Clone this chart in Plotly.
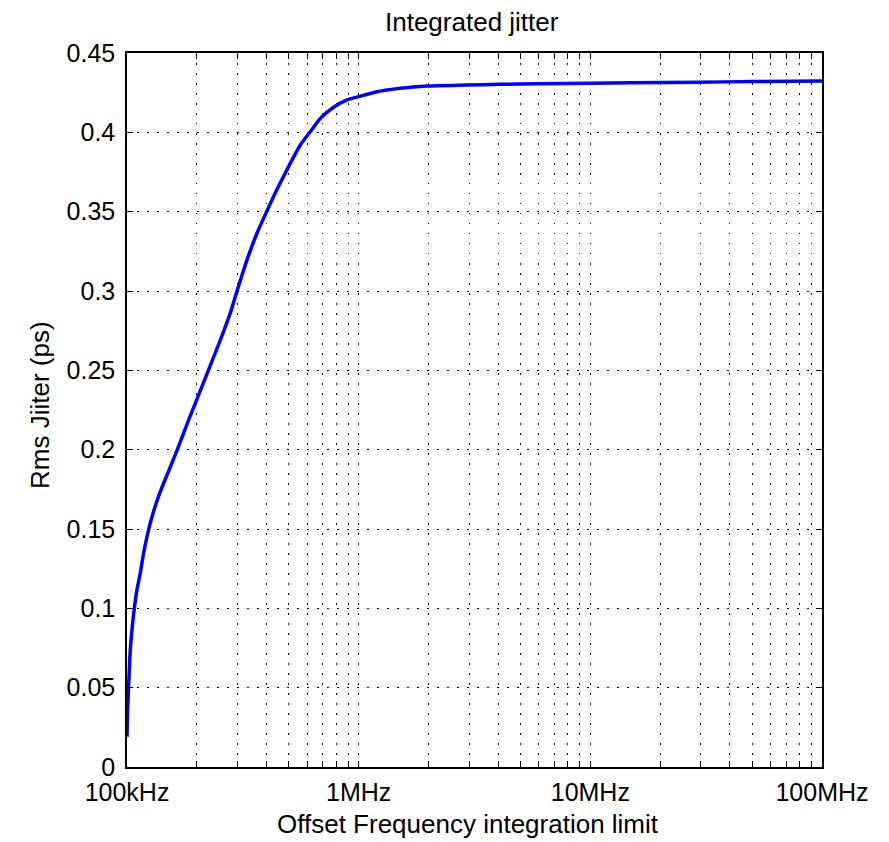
import plotly.graph_objects as go

# Offset frequency (Hz) and integrated rms jitter (ps)
freq_hz = [100.0e3, 100.6e3, 101.6e3, 103.3e3, 106.1e3, 107.5e3, 110.4e3, 114.1e3,
           117.9e3, 123.9e3, 130.2e3, 139.2e3, 148.8e3, 164.4e3, 184.5e3, 215e3,
           252.8e3, 279e3, 298.5e3, 329.7e3, 364e3, 402e3, 444e3, 507e3, 560e3,
           619e3, 683e3, 780e3, 891e3, 1.0e6, 1.2e6, 1.514e6, 1.974e6, 2.94e6,
           4.09e6, 6.0e6, 10e6, 15e6, 30e6, 50e6, 100e6]
jitter_ps = [0.019, 0.035, 0.0506, 0.0737, 0.0926, 0.0998, 0.1116, 0.1221,
             0.1347, 0.1494, 0.161, 0.1735, 0.184, 0.1995, 0.2187, 0.243,
             0.2691, 0.286, 0.3, 0.3196, 0.3364, 0.3505, 0.364, 0.3805, 0.392,
             0.4005, 0.4088, 0.4158, 0.4204, 0.4225, 0.4256, 0.4278, 0.4292, 0.4298,
             0.4303, 0.4306, 0.4309, 0.4312, 0.4316, 0.432, 0.4324]

x_decades = [1e5, 1e6, 1e7, 1e8]
x_tick_labels = ["100kHz", "1MHz", "10MHz", "100MHz"]
y_ticks = [0, 0.05, 0.1, 0.15, 0.2, 0.25, 0.3, 0.35, 0.4, 0.45]

# all log ticks (1..9 per decade), labelled only at decades
tickvals, ticktext = [], []
for d, lab in zip(x_decades[:-1], x_tick_labels[:-1]):
    for k in range(1, 10):
        tickvals.append(k * d)
        ticktext.append(lab if k == 1 else "")
tickvals.append(x_decades[-1])
ticktext.append(x_tick_labels[-1])

FONT = "Liberation Sans, Arial, sans-serif"
W, H = 873, 834  # page body adds an 8px margin
ML, MR, MT, MB = 119, 59, 45, 75
PW, PH = W - ML - MR, H - MT - MB

fig = go.Figure()
fig.add_trace(go.Scatter(
    x=freq_hz, y=jitter_ps, mode="lines",
    line=dict(color="#0000FF", width=3.5, shape="spline", smoothing=0.5),
    showlegend=False, hoverinfo="skip",
))

fig.update_layout(
    width=W, height=H,
    margin=dict(l=ML, r=MR, t=MT, b=MB, autoexpand=False),
    paper_bgcolor="white", plot_bgcolor="white",
    font=dict(family=FONT, size=25, color="black"),
    title=dict(text="Integrated jitter", x=0.496, xref="paper", xanchor="center",
               y=1 - 14 / H, yref="container", yanchor="middle",
               font=dict(family=FONT, size=26, color="black")),
    annotations=[
        dict(text="Offset Frequency integration limit", xref="paper", yref="paper",
             x=0.49, y=-(816 - (MT + PH)) / PH, xanchor="center", yanchor="middle",
             showarrow=False, font=dict(family=FONT, size=26, color="black")),
        dict(text="Rms Jiiter (ps)", xref="paper", yref="paper", textangle=-90,
             x=-(ML - 32) / PW, y=1 - (397 - MT) / PH, xanchor="center", yanchor="middle",
             showarrow=False, font=dict(family=FONT, size=26, color="black")),
    ],
)

fig.update_xaxes(
    type="log", range=[5, 8], automargin=False,
    tickmode="array", tickvals=tickvals, ticktext=ticktext,
    ticks="inside", ticklen=6, tickwidth=1, tickcolor="black",
    ticklabelstandoff=2,
    showline=True, linecolor="black", linewidth=1.5, mirror="ticks",
    showgrid=True, gridcolor="black", gridwidth=1, griddash="1.5px,8.5px",
    zeroline=False,
    tickfont=dict(family=FONT, size=25, color="black"),
)
fig.update_yaxes(
    range=[0, 0.45], automargin=False,
    tickmode="array", tickvals=y_ticks,
    ticktext=["0" if v == 0 else f"{v:g}" for v in y_ticks],
    ticks="inside", ticklen=6, tickwidth=1, tickcolor="black",
    ticklabelstandoff=5,
    showline=True, linecolor="black", linewidth=1.5, mirror="ticks",
    showgrid=True, gridcolor="black", gridwidth=1, griddash="1.5px,8.5px",
    zeroline=False,
    tickfont=dict(family=FONT, size=25, color="black"),
)

fig.write_html("out.html")
